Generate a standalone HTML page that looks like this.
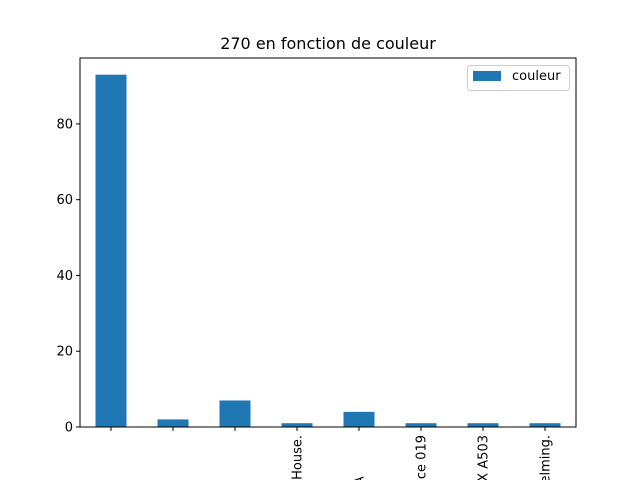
<!DOCTYPE html>
<html><head><meta charset="utf-8"><style>
html,body{margin:0;background:#fff;width:640px;height:480px;overflow:hidden;}
svg{display:block;font-family:"DejaVu Sans","Liberation Sans",sans-serif;overflow:hidden;}
</style></head><body>
<svg id="chart" width="640" height="480">
<rect width="640" height="480" fill="#fff"/>
<text x="328" y="49" font-size="16" text-anchor="middle">270 en fonction de couleur</text>
<g id="bars"></g>
<g id="yaxis"></g>
<g id="xaxis"></g>
<rect x="80" y="58" width="496" height="369" fill="none" stroke="#000" stroke-width="1"/>
<g>
<rect x="467.5" y="65.5" width="102" height="25" rx="3" fill="#fff" stroke="#ccc"/>
<rect x="473" y="71" width="28" height="10" fill="#1f77b4"/>
<text x="512" y="80" font-size="13">couleur</text>
</g>
</svg>
<script>
const categories = ["", "", "", "Green House.", "Dessin A\u00A0\u00A0\u00A0\u00A0\u00A0\u00A0\u00A0\u00A0\u00A0\u00A0", "Reference 019", "Couleur X A503", "Helming."];
const values = [93, 2, 7, 1, 4, 1, 1, 1];
const yTicks = [0, 20, 40, 60, 80];
const NS = "http://www.w3.org/2000/svg";
const L = 80, R = 576, T = 58, B = 427;
const yMax = 97.4;
function yScale(v){ return B - v / yMax * (B - T); }
const step = (R - L) / categories.length;
function xScale(i){ return L + step * (i + 0.5); }
const barW = step * 0.5;
const bars = document.getElementById('bars');
values.forEach((v, i) => {
  const r = document.createElementNS(NS, 'rect');
  r.setAttribute('x', xScale(i) - barW / 2);
  r.setAttribute('y', yScale(v));
  r.setAttribute('width', barW);
  r.setAttribute('height', B - yScale(v));
  r.setAttribute('fill', '#1f77b4');
  
  
  bars.appendChild(r);
});
const ya = document.getElementById('yaxis');
yTicks.forEach(t => {
  const y = yScale(t);
  const l = document.createElementNS(NS, 'line');
  l.setAttribute('x1', L - 4); l.setAttribute('x2', L);
  l.setAttribute('y1', y); l.setAttribute('y2', y);
  l.setAttribute('stroke', '#000');
  
  
  ya.appendChild(l);
  const tx = document.createElementNS(NS, 'text');
  tx.setAttribute('x', L - 7); tx.setAttribute('y', y + 4.5);
  tx.setAttribute('font-size', '13'); tx.setAttribute('text-anchor', 'end');
  tx.textContent = t;
  
  
  ya.appendChild(tx);
});
const xa = document.getElementById('xaxis');
categories.forEach((c, i) => {
  const x = xScale(i);
  const l = document.createElementNS(NS, 'line');
  l.setAttribute('x1', x); l.setAttribute('x2', x);
  l.setAttribute('y1', B); l.setAttribute('y2', B + 4);
  l.setAttribute('stroke', '#000');
  
  
  xa.appendChild(l);
  const tx = document.createElementNS(NS, 'text');
  tx.setAttribute('transform', 'translate(' + (x + 4.5) + ',' + (B + 8) + ') rotate(-90)');
  tx.setAttribute('font-size', '13'); tx.setAttribute('text-anchor', 'end');
  tx.textContent = c;
  
  
  xa.appendChild(tx);
});
</script>
</body></html>
